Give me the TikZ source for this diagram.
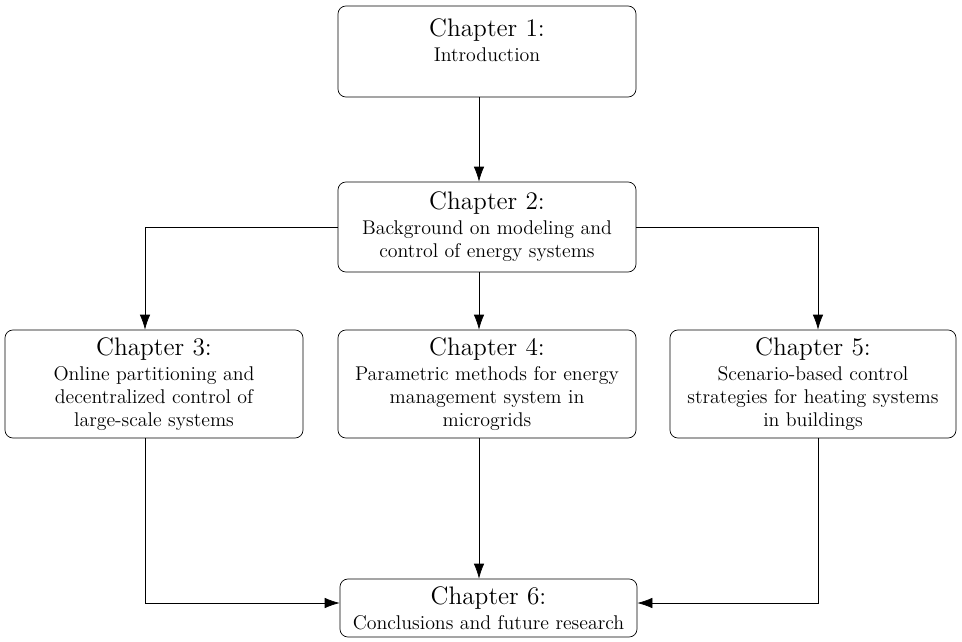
\documentclass[tikz,border=0pt]{standalone}
\usetikzlibrary{arrows.meta}

\begin{document}
\begin{tikzpicture}[
    chapter/.style={draw, rounded corners=4.5pt, align=center, inner sep=2pt,
        minimum width=5.96cm, font=\fontsize{11.3}{13.2}\selectfont},
    >={Latex[length=3mm,width=2.1mm]}
]
    \useasboundingbox (0,0) rectangle (19.24,-12.84);

    % Nodes (Chapters)
    \node[chapter, minimum height=1.82cm] (C1) at (9.74, -1.03)
        {{\Large Chapter 1:}\\[1pt] Introduction\\ \mbox{}};
    \node[chapter, minimum height=1.80cm] (C2) at (9.74, -4.54)
        {{\Large Chapter 2:}\\[1pt] Background on modeling and\\ control of energy systems};
    \node[chapter, minimum height=2.16cm] (C3) at (3.08, -7.68)
        {{\Large Chapter 3:}\\[1pt] Online partitioning and\\ decentralized control of\\ large-scale systems};
    \node[chapter, minimum height=2.16cm] (C4) at (9.74, -7.68)
        {{\Large Chapter 4:}\\[1pt] Parametric methods for energy\\ management system in\\ microgrids};
    \node[chapter, minimum height=2.16cm, minimum width=5.72cm] (C5) at (16.26, -7.68)
        {{\Large Chapter 5:}\\[1pt] Scenario-based control\\ strategies for heating systems\\ in buildings};
    \node[chapter, minimum height=1.16cm, minimum width=5.94cm] (C6) at (9.77, -12.16)
        {{\Large Chapter 6:}\\[1pt] Conclusions and future research};

    % Edges (Dependencies)
    \draw[->] ([xshift=-1.6mm]C1.south) -- ([xshift=-1.6mm]C2.north);
    \draw[->] ([xshift=-1.6mm]C2.south) -- ([xshift=-1.6mm]C4.north);
    \draw[->] (C2.west) -| ([xshift=-1.8mm]C3.north);
    \draw[->] (C2.east) -| ([xshift=1mm]C5.north);

    % Edges (into the conclusions)
    \draw[->] ([xshift=-1.6mm]C4.south) -- ([xshift=-1.6mm]C4.south |- C6.north);
    \draw[->] ([xshift=-1.8mm]C3.south) |- ([yshift=1mm]C6.west);
    \draw[->] ([xshift=1mm]C5.south) |- ([yshift=1mm]C6.east);
\end{tikzpicture}
\end{document}
